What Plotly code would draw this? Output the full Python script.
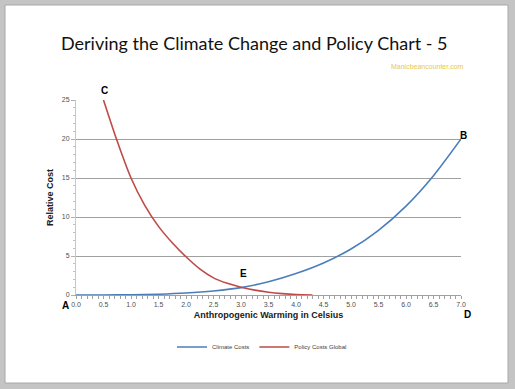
import plotly.graph_objects as go

# ---- data ----
x_climate = [0.0, 0.5, 1.0, 1.5, 2.0, 2.5, 3.0, 3.5, 4.0, 4.5, 5.0, 5.5, 6.0, 6.5, 7.0]
climate_costs = [0.0, 0.0, 0.03, 0.1, 0.25, 0.52, 0.95, 1.7, 2.75, 4.1, 5.9, 8.3, 11.4, 15.3, 20.0]

x_policy = [0.5, 0.75, 1.0, 1.25, 1.5, 1.75, 2.0, 2.25, 2.5, 2.75, 3.0, 3.25, 3.5, 3.75, 4.0, 4.3]
policy_costs = [25.0, 19.7, 15.0, 11.5, 8.8, 6.7, 4.9, 3.35, 2.2, 1.5, 1.0, 0.62, 0.35, 0.17, 0.06, 0.0]

point_labels = ["A", "B", "C", "D", "E"]
label_px = [65, 463, 104, 468, 243]   # pixel positions of the letter labels
label_py = [305, 135, 90, 314, 273]

x_ticks = [i * 0.5 for i in range(15)]
y_ticks = [0, 5, 10, 15, 20, 25]

W, H = 515, 389
L, R, T, B = 76, 54, 100, 94
pw, ph = W - L - R, H - T - B

def px(x):
    return (x - L) / pw

def py(y):
    return (H - B - y) / ph

fig = go.Figure()
fig.add_trace(go.Scatter(x=x_climate, y=climate_costs, mode="lines", name="Climate Costs",
                         line=dict(color="#4a7ebb", width=1.6, shape="spline", smoothing=0.8),
                         cliponaxis=False))
fig.add_trace(go.Scatter(x=x_policy, y=policy_costs, mode="lines", name="Policy Costs Global",
                         line=dict(color="#be4b48", width=1.6, shape="spline", smoothing=0.8),
                         cliponaxis=False))

annotations = []
for t, xx, yy in zip(point_labels, label_px, label_py):
    annotations.append(dict(x=px(xx), y=py(yy), xref="paper", yref="paper", text="<b>%s</b>" % t,
                            showarrow=False, xanchor="center", yanchor="middle",
                            font=dict(family="Arial", size=10, color="black")))
annotations.append(dict(x=px(254), y=py(43), xref="paper", yref="paper",
                        text="Deriving the Climate Change and Policy Chart - 5", showarrow=False,
                        font=dict(family="Lato", size=18, color="#111111"), xanchor="center", yanchor="middle"))
annotations.append(dict(x=px(466), y=py(66), xref="paper", yref="paper", text="Manicbeancounter.com",
                        showarrow=False, xanchor="right", yanchor="middle",
                        font=dict(family="Arial", size=7, color="#e8c84a")))

shapes = [dict(type="rect", xref="paper", yref="paper", x0=px(5), x1=px(508), y0=py(383), y1=py(5),
               fillcolor="white", line=dict(color="#a8a8a8", width=1), layer="below")]

fig.update_layout(
    width=W, height=H,
    margin=dict(l=L, r=R, t=T, b=B),
    paper_bgcolor="#c4c4c4",
    plot_bgcolor="rgba(0,0,0,0)",
    showlegend=True,
    legend=dict(orientation="h", x=px(262), y=py(347), xanchor="center", yanchor="middle",
                font=dict(family="Arial", size=6, color="#404040"), bgcolor="rgba(0,0,0,0)",
                itemwidth=30),
    annotations=annotations,
    shapes=shapes,
    xaxis=dict(range=[0, 7], tickvals=x_ticks, ticktext=["%.1f" % v for v in x_ticks],
               showgrid=False, zeroline=False, showline=True, linecolor="#a0a0a0", linewidth=1,
               ticks="outside", ticklen=3, tickcolor="#a0a0a0",
               minor=dict(dtick=0.1, ticks="outside", ticklen=3, tickcolor="#a0a0a0"),
               tickfont=dict(family="Arial", size=7, color="#505050"),
               title=dict(text="<b>Anthropogenic Warming in Celsius</b>", standoff=4,
                          font=dict(family="Arial", size=9, color="#202020"))),
    yaxis=dict(range=[0, 25], tickvals=y_ticks, showgrid=True, gridcolor="#a0a0a0", gridwidth=1,
               zeroline=False, showline=True, linecolor="#c8c8c8", linewidth=1,
               ticks="outside", ticklen=4, tickcolor="#b0b0b0",
               minor=dict(dtick=1, ticks="outside", ticklen=2, tickcolor="#c0c0c0"),
               tickfont=dict(family="Arial", size=7, color="#505050"),
               title=dict(text="<b>Relative Cost</b>", standoff=6,
                          font=dict(family="Arial", size=9, color="#202020"))),
)

fig.write_html("out.html", config={"displayModeBar": False},
               post_script="document.body.style.margin='0';document.body.style.padding='0';")
